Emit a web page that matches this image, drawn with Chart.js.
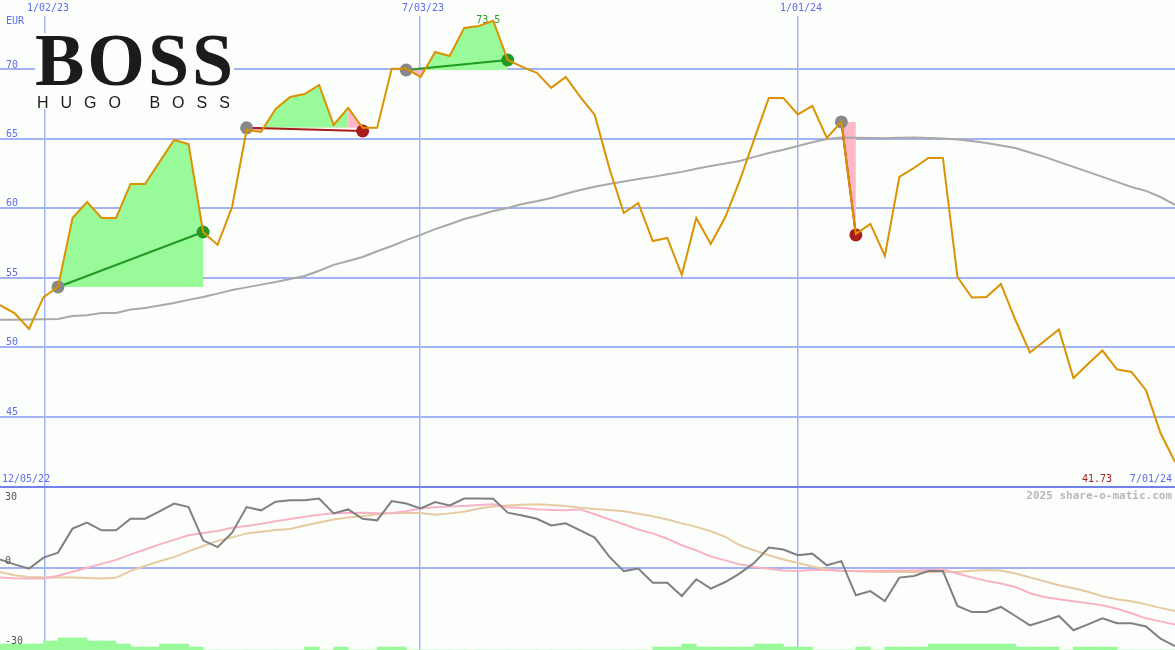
<!DOCTYPE html>
<html>
<head>
<meta charset="utf-8">
<script src="https://cdn.jsdelivr.net/npm/chart.js@4.4.1/dist/chart.umd.min.js"></script>
<style>
  html, body { margin: 0; padding: 0; background: #fcfefc; }
  #wrap { position: relative; width: 1175px; height: 650px; overflow: hidden; }
  canvas { position: absolute; left: 0; display: block; }
  #top { top: 0; }
  #bottom { top: 488px; }
</style>
</head>
<body>
<div id="wrap">
  <canvas id="top" width="1175" height="488"></canvas>
  <canvas id="bottom" width="1175" height="162"></canvas>
</div>
<script>
// weekly closes (EUR), week 0 = 12/05/22, last week = 7/01/24
const price = [53.03, 52.45, 51.3, 53.6, 54.33, 59.3, 60.45, 59.3, 59.3, 61.75,
  61.75, 63.34, 64.92, 64.63, 58.29, 57.36, 60.09, 65.64, 65.5, 67.15,
  68.02, 68.23, 68.88, 66.0, 67.23, 65.79, 65.79, 70.04, 70.04, 69.46,
  71.26, 70.97, 72.99, 73.13, 73.5, 70.68, 70.18, 69.75, 68.67, 69.46,
  68.02, 66.72, 62.9, 59.66, 60.38, 57.64, 57.86, 55.19, 59.3, 57.43,
  59.37, 62.0, 65.0, 67.95, 67.95, 66.76, 67.37, 65.06, 66.22, 58.15,
  58.87, 56.56, 62.26, 62.9, 63.62, 63.62, 55.05, 53.57, 53.6, 54.55,
  51.95, 49.61, 50.44, 51.27, 47.77, 48.78, 49.75, 48.39, 48.21, 46.9,
  43.81, 41.73];

const movingAvg = [51.96, 51.97, 51.98, 52.0, 52.03, 52.24, 52.3, 52.46, 52.46, 52.7,
  52.82, 53.0, 53.18, 53.4, 53.61, 53.85, 54.11, 54.3, 54.5, 54.69,
  54.9, 55.12, 55.5, 55.92, 56.2, 56.49, 56.9, 57.28, 57.7, 58.08,
  58.5, 58.85, 59.23, 59.5, 59.8, 60.02, 60.3, 60.5, 60.74, 61.05,
  61.32, 61.55, 61.75, 61.92, 62.1, 62.26, 62.45, 62.62, 62.85, 63.05,
  63.22, 63.41, 63.7, 63.98, 64.22, 64.49, 64.75, 64.99, 65.1, 65.08,
  65.06, 65.05, 65.07, 65.1, 65.06, 65.03, 64.95, 64.85, 64.7, 64.52,
  64.34, 64.02, 63.7, 63.34, 62.98, 62.62, 62.26, 61.9, 61.53, 61.25,
  60.81, 60.24];

// lower panel oscillator
const oscFast = [3.65, 1.5, -0.34, 4.38, 6.53, 16.83, 19.4, 16.1, 16.1, 21.1,
  21.1, 24.3, 27.6, 26.1, 11.8, 8.9, 15.1, 26.1, 24.7, 28.4,
  29.0, 29.0, 29.8, 23.4, 25.1, 21.1, 20.4, 28.7, 27.6, 25.5,
  28.3, 26.8, 29.8, 29.8, 29.7, 23.7, 22.5, 21.1, 18.2, 19.1,
  16.1, 13.0, 4.8, -1.4, -0.3, -6.4, -6.4, -12.1, -4.9, -8.9,
  -6.1, -2.4, 2.2, 8.7, 7.9, 5.4, 6.1, 1.1, 2.9, -11.8,
  -10.0, -14.3, -4.2, -3.5, -1.4, -1.4, -16.4, -19.0, -19.0, -16.8,
  -20.7, -24.7, -22.8, -20.7, -26.8, -24.3, -21.7, -23.8, -23.8, -25.2,
  -30.4, -33.6];

const oscSignal = [-4.2, -4.5, -4.6, -4.6, -3.4, -1.7, 0, 1.7, 3.4, 5.8,
  7.9, 10.1, 12.0, 14.0, 15.0, 15.8, 17.2, 18.0, 18.9, 20.0,
  21.0, 21.9, 22.8, 23.4, 23.6, 23.7, 23.4, 23.6, 24.3, 25.5,
  26.0, 26.3, 26.6, 27.0, 27.3, 26.0, 25.7, 25.2, 24.9, 24.7,
  25.1, 23.0, 20.8, 18.7, 16.5, 14.8, 12.5, 9.7, 7.5, 4.9,
  3.2, 1.5, 0.4, -0.4, -1.1, -1.4, -0.9, -0.9, -1.3, -1.4,
  -1.4, -1.3, -1.1, -1.1, -0.9, -0.6, -2.4, -4.1, -5.6, -6.7,
  -8.2, -10.9, -12.5, -13.5, -14.4, -15.2, -16.1, -17.6, -19.5, -21.7,
  -23.0, -24.3];

const oscSlow = [-1.8, -3.2, -3.9, -4.1, -4.2, -4.2, -4.4, -4.6, -4.3, -1.3,
  0.8, 2.8, 4.6, 7.1, 9.4, 11.6, 13.1, 14.8, 15.5, 16.3,
  16.7, 18.2, 19.5, 20.8, 21.6, 22.2, 23.0, 23.5, 23.6, 23.6,
  22.8, 23.4, 24.1, 25.5, 26.4, 26.8, 27.1, 27.3, 27.0, 26.6,
  25.8, 25.3, 24.8, 24.3, 23.2, 22.2, 20.8, 19.1, 17.6, 15.7,
  13.3, 9.7, 7.5, 5.4, 3.6, 2.1, 0.6, -0.6, -1.3, -1.5,
  -1.7, -1.8, -1.8, -1.8, -1.8, -1.8, -1.8, -1.3, -0.9, -1.1,
  -2.4, -4.1, -5.8, -7.5, -8.8, -10.3, -12.2, -13.5, -14.4, -15.7,
  -17.2, -18.5];

// small green bars at the foot of the lower panel
const volumeLevel = [2, 2, 2, 3, 4, 4, 3, 3, 2, 1,
  1, 2, 2, 1, 0, 0, 0, 0, 0, 0,
  0, 1, 0, 1, 0, 0, 1, 1, 0, 0,
  0, 0, 0, 0, 0, 0, 0, 0, 0, 0,
  0, 0, 0, 0, 0, 1, 1, 2, 1, 1,
  1, 1, 2, 2, 1, 1, 0, 0, 0, 1,
  0, 1, 1, 1, 2, 2, 2, 2, 2, 2,
  1, 1, 1, 0, 1, 1, 1, 0, 0, 0,
  0, 0];

const priceTicks = [45, 50, 55, 60, 65, 70];
const oscTicks = [30, 0, -30];
const dateLines = [3.1, 28.95, 55.01];
const dateLabels = ['1/02/23', '7/03/23', '1/01/24'];
const firstDate = '12/05/22';
const lastDate = '7/01/24';

// trades: week and price of entry / exit
const tradeEntryWeek = [4, 17, 28, 58];
const tradeExitWeek = [14, 25, 35, 59];
const tradeEntryPrice = [54.33, 65.79, 69.96, 66.22];
const tradeExitPrice = [58.29, 65.57, 70.68, 58.08];

const bg = '#fcfefc';
const gridBlue = '#a3b3f3';
const labelBlue = '#5c6cf0';
const gainFill = '#98fa98';
const lossFill = '#ffb8c8';
const gainLine = '#229922';
const lossLine = '#a81c1c';
const mono = '"DejaVu Sans Mono", monospace';

const weeks = price.map((_, i) => i);
const pts = arr => weeks.map(k => ({x: k, y: arr[k]}));

function xAxis() {
	return {
		type: 'linear', min: 0, max: price.length - 1, offset: false,
		afterBuildTicks: s => { s.ticks = dateLines.map(v => ({value: v})); },
		afterFit: s => { s.height = 0; },
		ticks: {display: false},
		border: {display: false},
		grid: {color: gridBlue, lineWidth: 1.5, drawTicks: false, offset: false}
	};
}

// ---------- upper panel ----------
const datasets = [];
datasets.push({
	label: 'price', data: pts(price), order: 0,
	borderColor: '#dc9200', borderWidth: 2, pointRadius: 0, tension: 0
});

const markerPts = [], markerColors = [];
tradeEntryWeek.forEach((start, t) => {
	const end = tradeExitWeek[t];
	const win = tradeExitPrice[t] >= tradeEntryPrice[t];
	const base = tradeEntryPrice[t];
	const fillSet = (from, to, above) => ({
		data: weeks.slice(from, to + 1).map(k => ({x: k, y: price[k]})),
		order: 4, borderWidth: 0, borderColor: 'rgba(0,0,0,0)', pointRadius: 0,
		fill: {target: {value: base}, above: above, below: lossFill}
	});
	if (win) {
		datasets.push(fillSet(start, end, gainFill));
	} else {
		// the closing week of a losing trade is shaded pink
		datasets.push(fillSet(start, end - 1, gainFill));
		datasets.push(fillSet(end - 1, end, lossFill));
	}

	datasets.push({
		data: [{x: start, y: base}, {x: end, y: tradeExitPrice[t]}], order: 2,
		borderColor: win ? gainLine : lossLine, borderWidth: 2, pointRadius: 0
	});
	markerPts.push({x: start, y: base}, {x: end, y: tradeExitPrice[t]});
	markerColors.push('#888888', win ? gainLine : lossLine);
});

datasets.push({
	data: markerPts, order: 1, showLine: false,
	pointRadius: 6.5, pointBorderWidth: 0, pointBackgroundColor: markerColors
});
datasets.push({
	label: 'average', data: pts(movingAvg), order: 3,
	borderColor: '#a8a8a8', borderWidth: 2, pointRadius: 0
});

const topDecor = {
	id: 'topDecor',
	beforeDatasetsDraw(chart) {
		const {ctx, scales: {x, y}} = chart;
		const peak = Math.max(...price);
		const pk = price.indexOf(peak);
		ctx.save();
		ctx.font = '10px ' + mono;
		ctx.textBaseline = 'middle';
		ctx.textAlign = 'center';
		ctx.fillStyle = '#2a9a2a';
		ctx.fillText(String(peak), x.getPixelForValue(pk) - 5, y.getPixelForValue(peak));
		ctx.restore();
	},
	afterDraw(chart) {
		const {ctx, scales: {x, y}} = chart;
		ctx.save();
		ctx.font = '10px ' + mono;
		ctx.textBaseline = 'middle';

		dateLabels.forEach((t, i) => {
			const px = x.getPixelForValue(dateLines[i]);
			ctx.fillStyle = bg;
			ctx.fillRect(px - 20, 0, 48, 16);
			ctx.fillStyle = labelBlue;
			ctx.textAlign = 'center';
			ctx.fillText(t, px + 3, 8);
		});

		ctx.textAlign = 'left';
		ctx.fillStyle = labelBlue;
		ctx.fillText('EUR', 6, 21);
		priceTicks.forEach(v => ctx.fillText(String(v), 6, y.getPixelForValue(v) - 4.5));

		ctx.fillText(firstDate, 2, 479);
		ctx.textAlign = 'right';
		ctx.fillText(lastDate, 1172, 479);
		ctx.fillStyle = lossLine;
		ctx.fillText(price[price.length - 1].toFixed(2), 1112, 479);

		// panel divider
		ctx.fillStyle = '#7282ea';
		ctx.fillRect(0, 486, 1175, 2);

		// logo
		ctx.fillStyle = bg;
		ctx.fillRect(35, 33, 199, 76);
		ctx.fillStyle = '#1c1a1a';
		ctx.textAlign = 'left';
		ctx.textBaseline = 'alphabetic';
		ctx.font = 'bold 74px "Liberation Serif", serif';
		ctx.letterSpacing = '3px';
		ctx.fillText('BOSS', 35, 85);
		ctx.font = '16px "Liberation Sans", sans-serif';
		ctx.letterSpacing = '12px';
		ctx.fillText('HUGO BOSS', 37, 108);
		ctx.restore();
	}
};

new Chart(document.getElementById('top'), {
	type: 'line',
	data: {datasets},
	options: {
		responsive: false, animation: false, events: [],
		layout: {padding: 0, autoPadding: false},
		plugins: {legend: {display: false}, tooltip: {enabled: false}},
		scales: {
			x: xAxis(),
			y: {
				min: 39.85, max: 75,
				afterBuildTicks: s => { s.ticks = priceTicks.map(v => ({value: v})); },
				afterFit: s => { s.width = 0; },
				ticks: {display: false},
				border: {display: false},
				grid: {color: gridBlue, lineWidth: 2, drawTicks: false}
			}
		}
	},
	plugins: [topDecor]
});

// ---------- lower panel ----------
const bottomDecor = {
	id: 'bottomDecor',
	afterDraw(chart) {
		const {ctx, scales: {y}} = chart;
		ctx.save();
		ctx.textBaseline = 'middle';
		ctx.font = '10px ' + mono;
		ctx.fillStyle = '#555555';
		ctx.textAlign = 'left';
		oscTicks.forEach(v => {
			const off = v > 0 ? -1 : (v < 0 ? 4 : -6);
			ctx.fillText(String(v), 5, y.getPixelForValue(v) + off);
		});
		ctx.font = 'bold 11px ' + mono;
		ctx.fillStyle = '#b8b8b8';
		ctx.textAlign = 'right';
		ctx.fillText('2025 share-o-matic.com', 1172, 8);
		ctx.restore();
	}
};

new Chart(document.getElementById('bottom'), {
	type: 'line',
	data: {
		datasets: [
			{data: pts(oscFast), order: 0, borderColor: '#808080', borderWidth: 2, pointRadius: 0},
			{data: pts(oscSignal), order: 1, borderColor: '#f8b2c6', borderWidth: 2, pointRadius: 0},
			{data: pts(oscSlow), order: 2, borderColor: '#e6cba0', borderWidth: 2, pointRadius: 0},
			{
				type: 'bar', yAxisID: 'yv', order: 3,
				data: weeks.map(k => ({x: k + 0.5, y: volumeLevel[k]})),
				backgroundColor: gainFill, borderWidth: 0,
				barPercentage: 1, categoryPercentage: 1, grouped: false
			}
		]
	},
	options: {
		responsive: false, animation: false, events: [],
		layout: {padding: 0, autoPadding: false},
		plugins: {legend: {display: false}, tooltip: {enabled: false}},
		scales: {
			x: xAxis(),
			y: {
				min: -35.3, max: 34.3,
				afterBuildTicks: s => { s.ticks = [{value: 0}]; },
				afterFit: s => { s.width = 0; },
				ticks: {display: false},
				border: {display: false},
				grid: {color: gridBlue, lineWidth: 2, drawTicks: false}
			},
			yv: {display: false, min: 0, max: 54}
		}
	},
	plugins: [bottomDecor]
});
</script>
</body>
</html>
